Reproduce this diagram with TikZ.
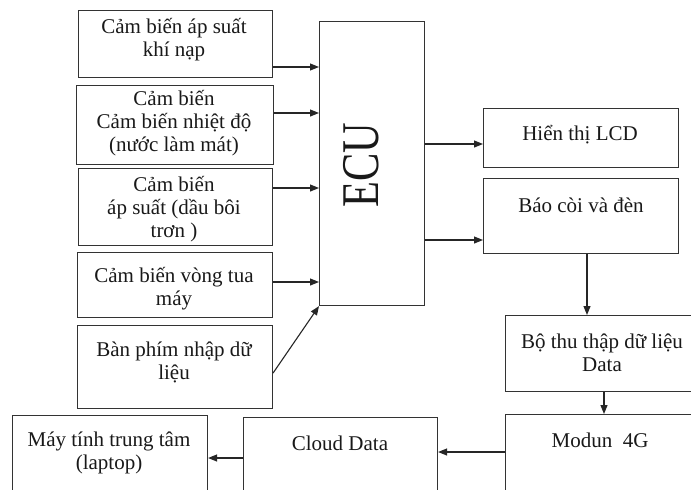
\documentclass[tikz,border=0pt]{standalone}
\usepackage{fontspec}
\setmainfont{Liberation Serif}
\usetikzlibrary{arrows.meta}
\begin{document}
\begin{tikzpicture}[x=1pt,y=-1pt,
  box/.style={draw=black!80, line width=1.1pt, rectangle, inner sep=0pt, anchor=north west},
  lbl/.style={align=center, inner sep=0pt, font=\fontsize{21}{23}\selectfont, text=black!90},
  arr/.style={draw=black!85, line width=1.1pt, -{Triangle[length=9pt,width=7pt]}}]
\useasboundingbox[fill=white] (0,0) rectangle (691,490);
% boxes
\node[box, minimum width=194pt, minimum height=67pt] (b1) at (78,10) {};
\node[box, minimum width=197pt, minimum height=79pt] (b2) at (76,85) {};
\node[box, minimum width=194pt, minimum height=77pt] (b3) at (78,168) {};
\node[box, minimum width=195pt, minimum height=65pt] (b4) at (77,252) {};
\node[box, minimum width=195pt, minimum height=83pt] (b5) at (77,325) {};
\node[box, minimum width=105pt, minimum height=284pt] (ecu) at (319,21) {};
\node[box, minimum width=195pt, minimum height=59pt] (lcd) at (483,108) {};
\node[box, minimum width=195pt, minimum height=75pt] (bao) at (483,178) {};
\node[box, minimum width=200pt, minimum height=76pt] (bothu) at (505,315) {};
\node[box, minimum width=200pt, minimum height=90pt] (modun) at (505,414) {};
\node[box, minimum width=194pt, minimum height=90pt] (cloud) at (243,417) {};
\node[box, minimum width=195pt, minimum height=90pt] (pc) at (12,415) {};
% labels
\node[lbl] (t1) at (174,40) {Cảm biến áp suất\\khí nạp};
\node[lbl] (t2) at (174,123) {Cảm biến\\Cảm biến nhiệt độ\\(nước làm mát)};
\node[lbl] (t3) at (174,209) {Cảm biến\\áp suất (dầu bôi\\trơn )};
\node[lbl] (t4) at (174,289) {Cảm biến vòng tua\\máy};
\node[lbl] (t5) at (174,362) {Bàn phím nhập dữ\\liệu};
\node[inner sep=0pt, rotate=90, font=\fontsize{53}{53}\selectfont, text=black!90] (tecu) at (361,165) {\scalebox{0.8}[1]{ECU}};
\node[lbl] (tlcd) at (580,135) {Hiển thị LCD};
\node[lbl] (tbao) at (581,205) {Báo còi và đèn};
\node[lbl] (tbothu) at (602,353) {Bộ thu thập dữ liệu\\Data};
\node[lbl] (tmodun) at (600,440) {Modun\ \ 4G};
\node[lbl] (tcloud) at (340,443) {Cloud Data};
\node[lbl] (tpc) at (109,453) {Máy tính trung tâm\\(laptop)};
% connectors
\draw[arr] (b1.east |- 0,67) -- (ecu.west |- 0,67);
\draw[arr] (b2.east |- 0,113) -- (ecu.west |- 0,113);
\draw[arr] (b3.east |- 0,188) -- (ecu.west |- 0,188);
\draw[arr] (b4.east |- 0,282) -- (ecu.west |- 0,282);
\draw[arr] (b5.east |- 0,373) -- (ecu.south west);
\draw[arr] (ecu.east |- 0,144) -- (lcd.west |- 0,144);
\draw[arr] (ecu.east |- 0,240) -- (bao.west |- 0,240);
\draw[arr] (bao.south -| 587,0) -- (bothu.north -| 587,0);
\draw[arr] (bothu.south -| 604,0) -- (modun.north -| 604,0);
\draw[arr] (modun.west |- 0,452) -- (cloud.east |- 0,452);
\draw[arr] (cloud.west |- 0,458) -- (pc.east |- 0,458);
\end{tikzpicture}
\end{document}
